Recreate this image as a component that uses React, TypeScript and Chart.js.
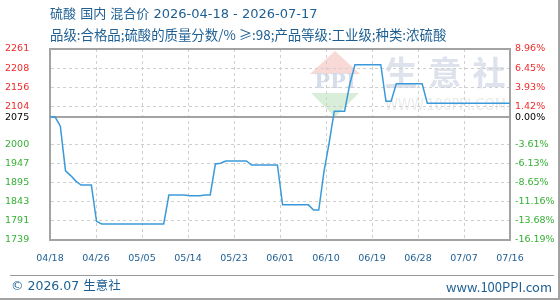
import { useEffect, useRef } from "react";
import { Chart, registerables } from "chart.js";

Chart.register(...registerables);

// Daily mixed price of sulphuric acid (yuan/ton), 04/18 .. 07/16
const prices = [
  2075, 2075, 2050, 1928, 1915, 1900, 1889, 1889, 1889, 1790,
  1783, 1783, 1783, 1783, 1783, 1783, 1783, 1783, 1783, 1783,
  1783, 1783, 1783, 1862, 1862, 1862, 1862, 1860, 1860, 1860,
  1862, 1862, 1947, 1949, 1955, 1955, 1955, 1955, 1955, 1944,
  1944, 1944, 1944, 1944, 1944, 1835, 1835, 1835, 1835, 1835,
  1835, 1821, 1821, 1925, 2004, 2091, 2091, 2091, 2165, 2218,
  2218, 2218, 2218, 2218, 2218, 2118, 2118, 2166, 2166, 2166,
  2166, 2166, 2166, 2113, 2113, 2113, 2113, 2113, 2113, 2113,
  2113, 2113, 2113, 2113, 2113, 2113, 2113, 2113, 2113, 2113,
];

const baseValue = 2075;
const leftTicks = [1739, 1791, 1843, 1895, 1947, 2000, 2075, 2104, 2156, 2208, 2261];
const rightTicks = ["-16.19%", "-13.68%", "-11.16%", "-8.65%", "-6.13%", "-3.61%", "0.00%", "1.42%", "3.93%", "6.45%", "8.96%"];
const xTickLabels = ["04/18", "04/26", "05/05", "05/14", "05/23", "06/01", "06/10", "06/19", "06/28", "07/07", "07/16"];

const titleText = "硫酸 国内 混合价 2026-04-18 - 2026-07-17";
const subtitleText = "品级:合格品;硫酸的质量分数/% ≥:98;产品等级:工业级;种类:浓硫酸";
const footerLeft = "© 2026.07 生意社";
const footerRight = "www.100PPI.com";
const brandName = ["生", "意", "社"];
const brandSite = "WWW.100PPI.COM";

const TEXT_BLUE = "#1d5f92";
const FRAME_GRAY = "#a3a3a3";
const GRID_GRAY = "#cfcfcf";
const CJK = '"Noto Sans CJK SC", "DejaVu Sans", sans-serif';
const MIXED = '"DejaVu Sans", "Noto Sans CJK SC", sans-serif';
const TICK_FONT = { family: '"DejaVu Sans", sans-serif', size: 9.5 };

const tickColor = (v: number) => (v > baseValue ? "#f02a2a" : v < baseValue ? "#35b035" : "#000000");

const decorations = {
  id: "decorations",
  beforeDraw(chart: Chart) {
    const ctx = chart.ctx;
    ctx.save();
    ctx.fillStyle = "#ffffff";
    ctx.fillRect(0, 0, chart.width, chart.height);

    // brand watermark
    ctx.fillStyle = "#f8d9d5";
    ctx.beginPath();
    ctx.moveTo(310, 74);
    ctx.lineTo(335, 51);
    ctx.lineTo(360, 74);
    ctx.closePath();
    ctx.fill();
    ctx.fillStyle = "#d9eed9";
    ctx.beginPath();
    ctx.moveTo(311, 93);
    ctx.lineTo(359, 93);
    ctx.lineTo(335, 117);
    ctx.closePath();
    ctx.fill();
    ctx.fillStyle = "#d5dcea";
    ctx.font = 'bold 21px "DejaVu Serif", serif';
    ctx.textAlign = "center";
    ctx.textBaseline = "middle";
    ctx.fillText("PPI", 335, 83, 46);

    ctx.fillStyle = "#dde2ec";
    ctx.font = `bold 33px ${CJK}`;
    brandName.forEach((ch, i) => ctx.fillText(ch, 401 + i * 44, 72));
    ctx.fillStyle = "#ebebeb";
    ctx.font = '15px "DejaVu Sans", sans-serif';
    ctx.textAlign = "left";
    ctx.fillText(brandSite, 385, 106, 121);
    ctx.restore();
  },
  afterDraw(chart: Chart) {
    const ctx = chart.ctx;
    const a = chart.chartArea;
    ctx.save();
    // top edge of the plot frame
    ctx.strokeStyle = FRAME_GRAY;
    ctx.lineWidth = 2;
    ctx.beginPath();
    ctx.moveTo(a.left - 1, a.top);
    ctx.lineTo(a.right + 1, a.top);
    ctx.stroke();

    // headings
    ctx.fillStyle = TEXT_BLUE;
    ctx.textBaseline = "middle";
    ctx.textAlign = "left";
    ctx.font = `13px ${MIXED}`;
    ctx.fillText(titleText, 50, 15);
    ctx.font = `13.4px ${CJK}`;
    ctx.fillText(subtitleText, 50, 34.5);

    // footer
    ctx.strokeStyle = "#9a9a9a";
    ctx.lineWidth = 1;
    ctx.beginPath();
    ctx.moveTo(10, 275.5);
    ctx.lineTo(554, 275.5);
    ctx.stroke();
    ctx.font = `12.5px ${MIXED}`;
    ctx.fillText(footerLeft, 11, 287);
    ctx.textAlign = "right";
    ctx.font = `13px ${CJK}`;
    ctx.fillText(footerRight, 552, 287);

    // outer edge
    ctx.strokeStyle = FRAME_GRAY;
    ctx.lineWidth = 2;
    ctx.beginPath();
    ctx.moveTo(559, 0);
    ctx.lineTo(559, 299);
    ctx.lineTo(0, 299);
    ctx.stroke();
    ctx.restore();
  },
};

export default function App() {
  const canvasRef = useRef<HTMLCanvasElement | null>(null);

  useEffect(() => {
    const canvas = canvasRef.current;
    if (!canvas) return;
    const lastIndex = prices.length - 1;
    const xStep = lastIndex / (xTickLabels.length - 1);

    const chart = new Chart(canvas, {
      type: "line",
      data: {
        datasets: [
          {
            data: prices.map((v, i) => ({ x: i, y: v })),
            borderColor: "#3a9ad9",
            borderWidth: 1.5,
            pointRadius: 0,
            tension: 0,
            fill: false,
          },
        ],
      },
      plugins: [decorations],
      options: {
        animation: false,
        responsive: false,
        devicePixelRatio: 1,
        layout: { padding: { left: 5, right: 0, top: 49, bottom: 25 } },
        plugins: { legend: { display: false }, tooltip: { enabled: false } },
        scales: {
          x: {
            type: "linear",
            min: 0,
            max: lastIndex,
            afterBuildTicks: (scale: any) => {
              scale.ticks = xTickLabels.map((_, i) => ({ value: i * xStep }));
            },
            afterFit: (scale: any) => {
              scale.height = 35;
            },
            ticks: {
              autoSkip: false,
              maxRotation: 0,
              padding: 13,
              color: TEXT_BLUE,
              font: TICK_FONT,
              callback: (_v: any, i: number) => xTickLabels[i],
            },
            grid: { color: GRID_GRAY, lineWidth: 1, drawTicks: false },
            border: { color: FRAME_GRAY, width: 2, dash: [3, 3] },
          },
          y: {
            position: "left",
            min: leftTicks[0],
            max: leftTicks[leftTicks.length - 1],
            afterBuildTicks: (scale: any) => {
              scale.ticks = leftTicks.map((v) => ({ value: v }));
            },
            afterFit: (scale: any) => {
              scale.width = 45;
            },
            ticks: {
              autoSkip: false,
              crossAlign: "far",
              padding: 4,
              font: TICK_FONT,
              color: (c: any) => tickColor(c.tick.value),
              callback: (v: any) => String(v),
            },
            grid: {
              drawTicks: false,
              color: (c: any) => (c.tick && c.tick.value === baseValue ? FRAME_GRAY : GRID_GRAY),
              lineWidth: (c: any) => (c.tick && c.tick.value === baseValue ? 2 : 1),
            },
            border: {
              color: FRAME_GRAY,
              width: 2,
              dash: (c: any) => (c.tick && c.tick.value === baseValue ? [] : [3, 3]),
            },
          },
          y2: {
            position: "right",
            min: leftTicks[0],
            max: leftTicks[leftTicks.length - 1],
            afterBuildTicks: (scale: any) => {
              scale.ticks = leftTicks.map((v) => ({ value: v }));
            },
            afterFit: (scale: any) => {
              scale.width = 50;
            },
            ticks: {
              autoSkip: false,
              padding: 5,
              font: TICK_FONT,
              color: (c: any) => tickColor(c.tick.value),
              callback: (v: any) => rightTicks[leftTicks.indexOf(v)],
            },
            grid: { display: false, drawTicks: false },
            border: { color: FRAME_GRAY, width: 2 },
          },
        },
      },
    } as any);

    return () => chart.destroy();
  }, []);

  return (
    <div style={{ position: "absolute", left: 0, top: 0, width: 560, height: 300, background: "#fff" }}>
      <canvas ref={canvasRef} width={560} height={300} style={{ display: "block" }} />
    </div>
  );
}
